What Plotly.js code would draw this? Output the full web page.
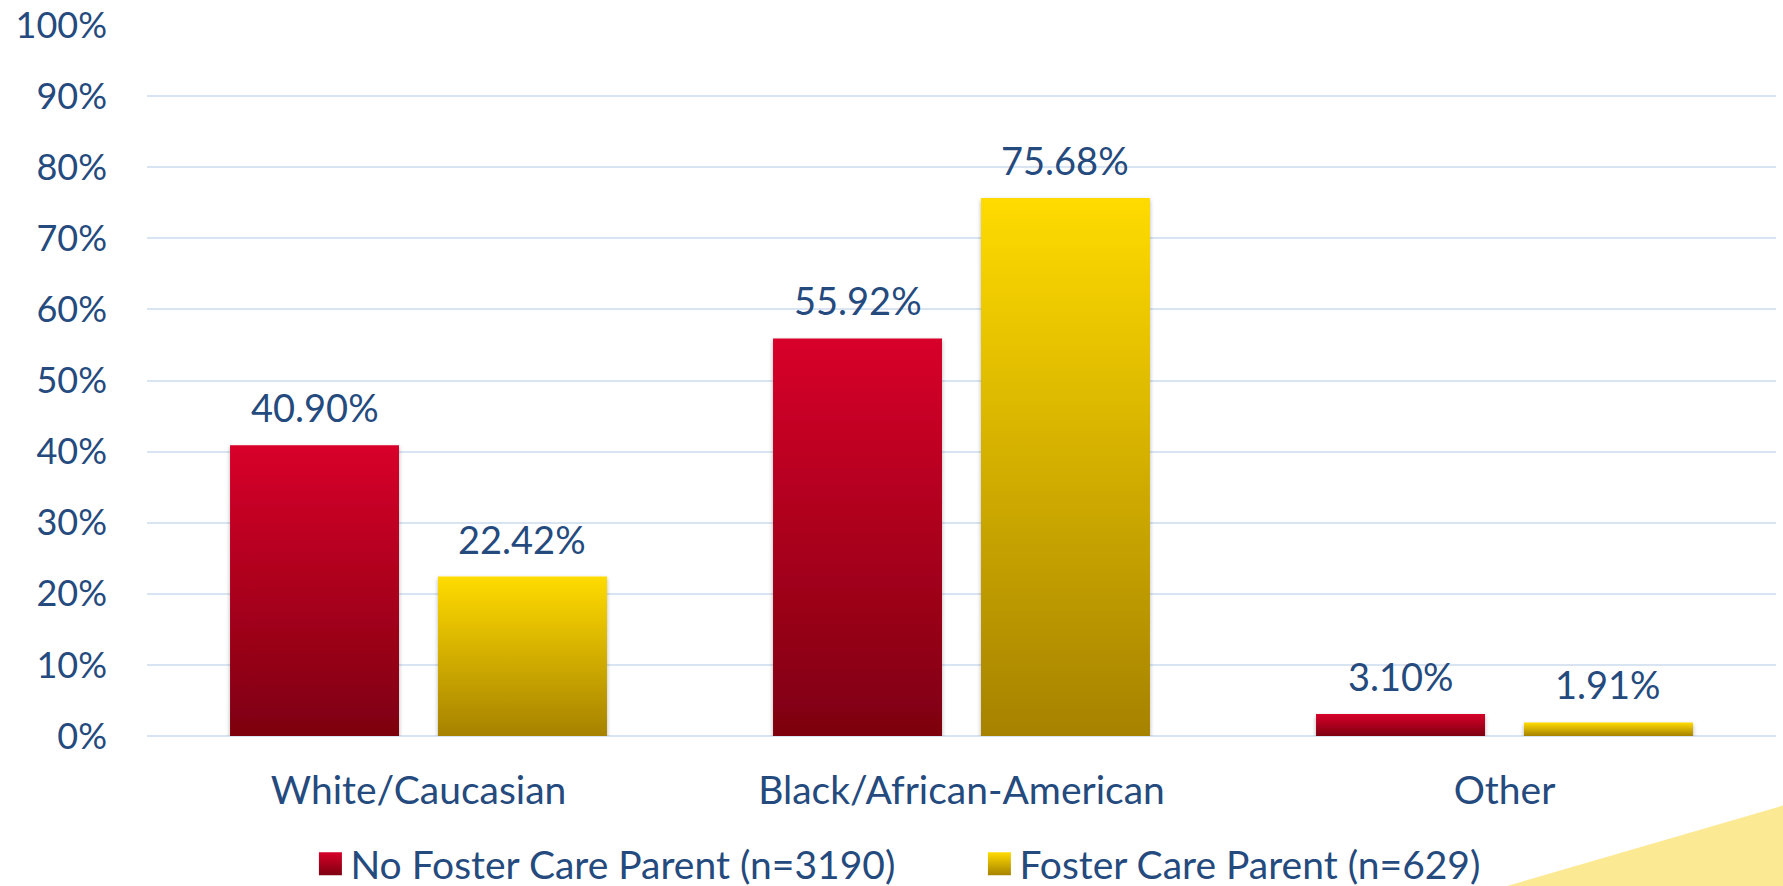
<!DOCTYPE html>
<html>
<head>
<meta charset="utf-8">
<script src="https://cdn.plot.ly/plotly-3.0.1.min.js"></script>
<style>
html,body{margin:0;padding:0;background:#fff;overflow:hidden;}
#chart{width:1783px;height:886px;}
</style>
</head>
<body>
<div id="chart"></div>
<script>
const categories = ["White/Caucasian", "Black/African-American", "Other"];
const seriesNames = ["No Foster Care Parent (n=3190)", "Foster Care Parent (n=629)"];
const noFosterValues = [40.90, 55.92, 3.10];
const fosterValues = [22.42, 75.68, 1.91];
const yTickVals = [0,10,20,30,40,50,60,70,80,90,100];
const yTickText = ["0%","10%","20%","30%","40%","50%","60%","70%","80%","90%","100%"];

const textColor = '#244a7e';
const fontFamily = 'Lato, "Open Sans", sans-serif';
const seriesValues = [noFosterValues, fosterValues];
const baseColors = ['#b00020', '#e0b800'];

const traces = seriesValues.map((vals, k) => ({
  type: 'bar',
  name: seriesNames[k],
  x: categories,
  y: vals,
  marker: {color: baseColors[k], line: {width: 0}},
  hoverinfo: 'skip'
}));

const bargap = 0.234;
const bargroupgap = 0.1875;
// center offset of each bar within its category (category units)
const slotOffset = (1 - bargap) / 4;
const annotations = [];
seriesValues.forEach((vals, k) => {
  vals.forEach((v, i) => {
    annotations.push({
      x: i + (k === 0 ? -slotOffset : slotOffset),
      y: v,
      xref: 'x', yref: 'y',
      text: v.toFixed(2) + '%',
      showarrow: false,
      yanchor: 'middle',
      yshift: 38,
      font: {family: fontFamily, size: 38, color: textColor}
    });
  });
});

const layout = {
  width: 1783, height: 886,
  margin: {l: 147, r: 7, t: 25, b: 150, autoexpand: false},
  paper_bgcolor: '#ffffff',
  plot_bgcolor: '#ffffff',
  barmode: 'group',
  bargap: bargap,
  bargroupgap: bargroupgap,
  showlegend: true,
  legend: {
    orientation: 'h',
    x: 0.511, xanchor: 'center',
    y: -0.18, yanchor: 'middle',
    bgcolor: 'rgba(0,0,0,0)',
    font: {family: fontFamily, size: 39, color: textColor},
    itemwidth: 30,
    entrywidth: 624,
    traceorder: 'normal'
  },
  xaxis: {
    type: 'category',
    tickfont: {family: fontFamily, size: 39, color: textColor},
    showgrid: false,
    showline: false,
    ticks: '',
    ticklen: 0,
    ticklabelstandoff: 28,
    automargin: false
  },
  yaxis: {
    range: [0, 100],
    tickvals: yTickVals,
    ticktext: yTickText,
    tickfont: {family: fontFamily, size: 36, color: textColor},
    showgrid: true,
    gridcolor: '#d9e4f2',
    gridwidth: 2,
    zeroline: true,
    zerolinecolor: '#d9e4f2',
    zerolinewidth: 2,
    showline: false,
    ticks: '',
    ticklabelstandoff: 39,
    automargin: false
  },
  annotations: annotations,
  shapes: [{
    type: 'path',
    xref: 'paper', yref: 'paper',
    path: 'M 0.835 -0.211 L 1.01 -0.094 L 1.01 -0.211 Z',
    fillcolor: '#fce993',
    line: {width: 0},
    layer: 'below'
  }]
};

const gd = document.getElementById('chart');
Plotly.newPlot(gd, traces, layout, {displayModeBar: false, staticPlot: true}).then(() => {
  const svgNS = 'http://www.w3.org/2000/svg';
  const svg = gd.querySelector('svg.main-svg');
  let defs = svg.querySelector('defs');
  if (!defs) { defs = document.createElementNS(svgNS, 'defs'); svg.insertBefore(defs, svg.firstChild); }
  const grads = [['#d8002a', '#7d0010'], ['#ffdb00', '#a68200']];
  grads.forEach((g, k) => {
    const lg = document.createElementNS(svgNS, 'linearGradient');
    lg.setAttribute('id', 'barGrad' + k);
    lg.setAttribute('x1', '0'); lg.setAttribute('y1', '0');
    lg.setAttribute('x2', '0'); lg.setAttribute('y2', '1');
    [[0, g[0]], [1, g[1]]].forEach(s => {
      const st = document.createElementNS(svgNS, 'stop');
      st.setAttribute('offset', s[0]);
      st.setAttribute('stop-color', s[1]);
      lg.appendChild(st);
    });
    defs.appendChild(lg);
  });
  const flt = document.createElementNS(svgNS, 'filter');
  flt.setAttribute('id', 'barShadow');
  flt.setAttribute('x', '-10%'); flt.setAttribute('y', '-10%');
  flt.setAttribute('width', '120%'); flt.setAttribute('height', '130%');
  const ds = document.createElementNS(svgNS, 'feDropShadow');
  ds.setAttribute('dx', '0'); ds.setAttribute('dy', '2');
  ds.setAttribute('stdDeviation', '2');
  ds.setAttribute('flood-color', '#000'); ds.setAttribute('flood-opacity', '0.3');
  flt.appendChild(ds);
  defs.appendChild(flt);

  gd.querySelectorAll('.barlayer .trace').forEach((tr, k) => {
    tr.querySelectorAll('path').forEach(p => {
      p.style.fill = 'url(#barGrad' + k + ')';
      p.setAttribute('filter', 'url(#barShadow)');
    });
  });
  gd.querySelectorAll('.legend .traces').forEach((tr, k) => {
    tr.querySelectorAll('.legendpoints path').forEach(p => {
      p.style.fill = 'url(#barGrad' + k + ')';
      p.setAttribute('d', 'M11.5,11.5H-11.5V-11.5H11.5Z');
    });
  });
});
</script>
</body>
</html>
